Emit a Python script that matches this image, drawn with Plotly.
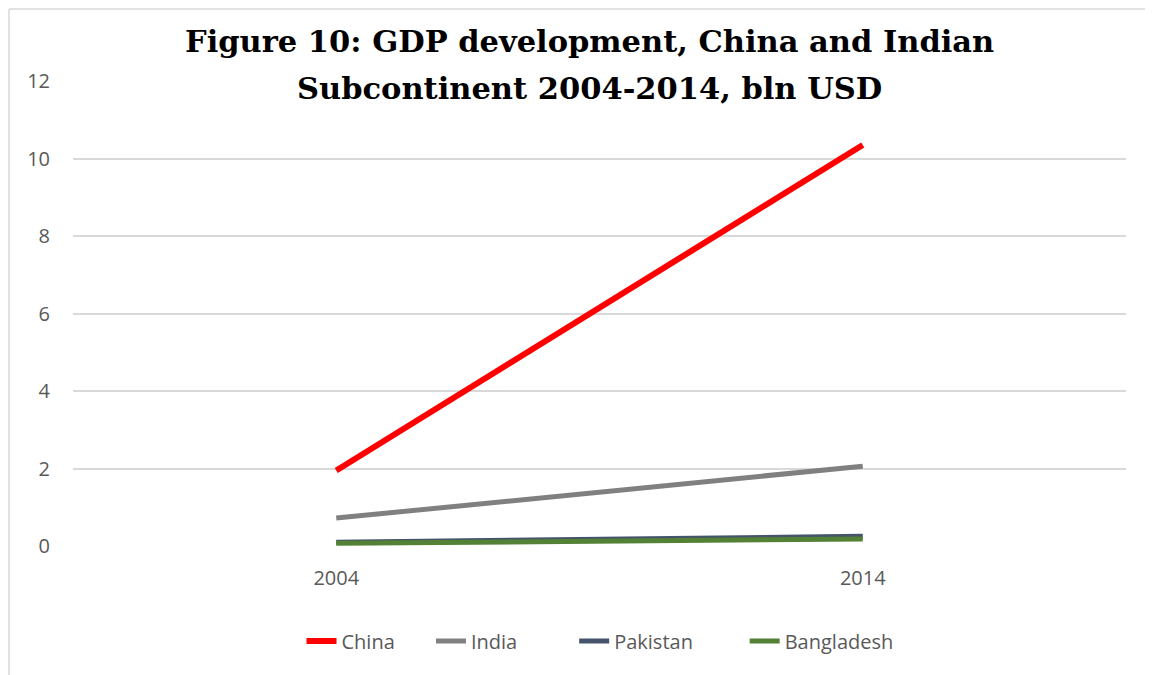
import plotly.graph_objects as go

years = ["2004", "2014"]
china = [1.95, 10.35]
india = [0.72, 2.06]
pakistan = [0.10, 0.25]
bangladesh = [0.07, 0.18]

series = [
    ("China", china, "#ff0000", 6, 6),
    ("India", india, "#808080", 5, 10),
    ("Pakistan", pakistan, "#44546a", 5, 9),
    ("Bangladesh", bangladesh, "#538135", 5, 0),
]

W, H = 1137, 667
L, R, T, B = 65, 19, 73, 129
PW, PH = W - L - R, H - T - B

fig = go.Figure()
for name, vals, color, w, pad in series:
    fig.add_trace(go.Scatter(x=years, y=vals, name=name + "\u00a0" * pad, mode="lines",
                             line=dict(color=color, width=w)))

title_font = dict(family="DejaVu Serif", size=30.5, color="black")
border = dict(color="#d9d9d9", width=1.5)
fig.update_layout(
    width=W, height=H,
    margin=dict(l=L, r=R, t=T, b=B),
    paper_bgcolor="white", plot_bgcolor="white",
    font=dict(family="Open Sans", color="#595959", size=20),
    showlegend=True,
    legend=dict(orientation="h", x=(592 - L) / PW, xanchor="center",
                y=(H - B - 633) / PH, yanchor="middle",
                font=dict(size=20, color="#595959"), traceorder="normal"),
    xaxis=dict(type="category", range=[-0.5, 1.5], showgrid=False, showline=False, zeroline=False,
               ticks="outside", ticklen=14, tickcolor="rgba(0,0,0,0)",
               tickfont=dict(size=20, color="#595959")),
    yaxis=dict(range=[0, 12], dtick=2, showgrid=True, gridcolor="#d9d9d9", gridwidth=1.5,
               zeroline=False, showline=False,
               ticks="outside", ticklen=18, tickcolor="rgba(0,0,0,0)",
               tickfont=dict(size=20, color="#595959")),
    annotations=[
        dict(text="<b>Figure 10: GDP development, China and Indian</b>", xref="paper", yref="paper",
             x=(581 - L) / PW, y=1 + (T - 33) / PH, xanchor="center", yanchor="middle",
             showarrow=False, font=title_font),
        dict(text="<b>Subcontinent 2004-2014, bln USD</b>", xref="paper", yref="paper",
             x=(581 - L) / PW, y=1 + (T - 80) / PH, xanchor="center", yanchor="middle",
             showarrow=False, font=title_font),
    ],
    shapes=[
        dict(type="line", xref="paper", yref="paper",
             x0=(1 - L) / PW, x1=(W - L) / PW, y0=1 + (T - 1) / PH, y1=1 + (T - 1) / PH,
             line=border, layer="below"),
        dict(type="line", xref="paper", yref="paper",
             x0=(1 - L) / PW, x1=(1 - L) / PW, y0=-B / PH, y1=1 + (T - 1) / PH,
             line=border, layer="below"),
    ],
)

fig.write_html("out.html")
